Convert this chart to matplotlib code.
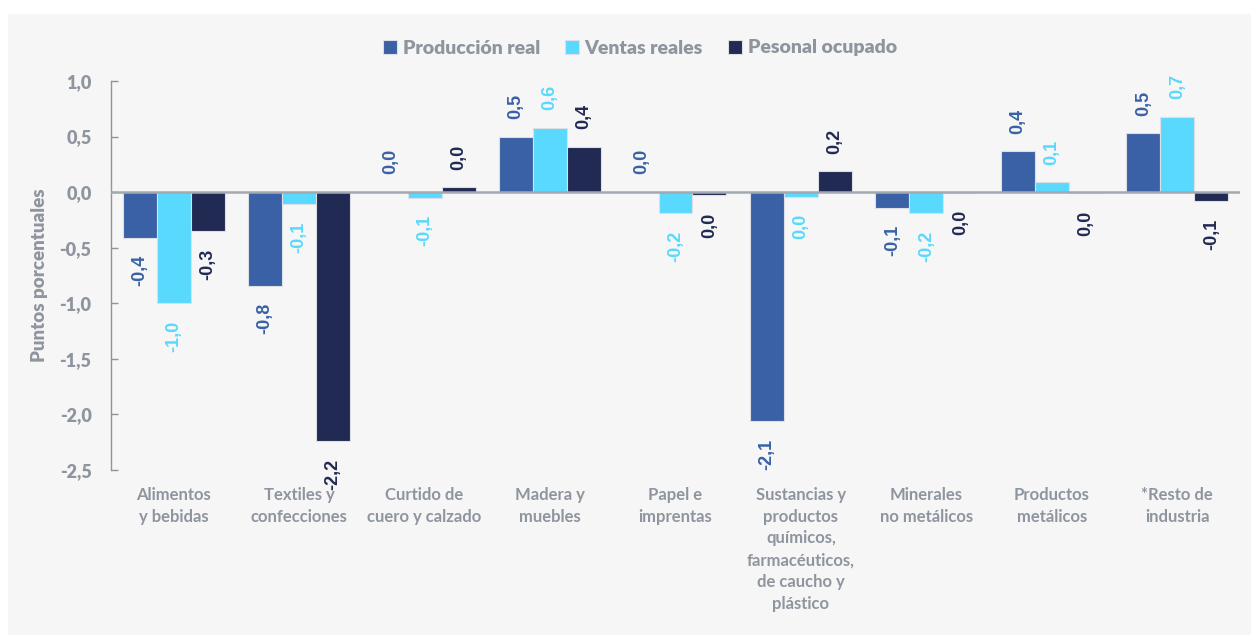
import numpy as np
import matplotlib
matplotlib.use("Agg")
import matplotlib.pyplot as plt
from matplotlib.patches import Rectangle

# Datos (puntos porcentuales)
categorias = [
    "Alimentos\ny bebidas",
    "Textiles y\nconfecciones",
    "Curtido de\ncuero y calzado",
    "Madera y\nmuebles",
    "Papel e\nimprentas",
    "Sustancias y\nproductos\nquímicos,\nfarmacéuticos,\nde caucho y\nplástico",
    "Minerales\nno metálicos",
    "Productos\nmetálicos",
    "*Resto de\nindustria",
]
produccion = [-0.41, -0.84, 0.004, 0.50, 0.004, -2.06, -0.14, 0.37, 0.53]
ventas = [-1.00, -0.11, -0.05, 0.58, -0.19, -0.04, -0.19, 0.09, 0.68]
personal = [-0.35, -2.24, 0.045, 0.41, -0.03, 0.19, -0.005, -0.01, -0.08]

series = ["Producción real", "Ventas reales", "Pesonal ocupado"]
colores = ["#3A61A6", "#5AD9FE", "#212A52"]
gris = "#8E959E"

fig = plt.figure(figsize=(12.51, 6.35), dpi=100)
fig.patch.set_facecolor("white")
fondo = Rectangle((8 / 1251, 0), 1, 1 - 13.5 / 635, transform=fig.transFigure,
                  facecolor="#F6F6F6", edgecolor="none", zorder=-10)
fig.patches.append(fondo)

ax = fig.add_axes([111 / 1251, 1 - 470 / 635, (1240 - 111) / 1251, (470 - 81) / 635])
ax.set_facecolor("none")

x = np.arange(len(categorias))
ancho = 0.271


def fmt(v):
    s = f"{v:.1f}".replace(".", ",")
    return "0,0" if s == "-0,0" else s


for i, (vals, nombre, color) in enumerate(zip([produccion, ventas, personal], series, colores)):
    pos = x + (i - 1) * ancho
    ax.bar(pos, vals, ancho, color=color, edgecolor="#DCDFE6", linewidth=0.8,
           label=nombre, zorder=2)
    for px, v in zip(pos, vals):
        off = 12.5 if v >= 0 else -12.5
        ax.annotate(fmt(v), (px, v), xytext=(0, off), textcoords="offset points",
                    rotation=90, ha="center", va="bottom" if v >= 0 else "top",
                    color=color, fontsize=13, fontweight="bold",
                    family="Liberation Sans")

ax.axhline(0, color="#A3A9B0", linewidth=1.8, zorder=3)

ax.set_xlim(-0.5, 8.5)
ax.set_ylim(-2.5, 1.0)
yt = np.arange(-2.5, 1.01, 0.5)
ax.set_yticks(yt)
ax.set_yticklabels([fmt(t) for t in yt], family="Lato", fontweight="heavy")
ax.set_xticks(x)
ax.set_xticklabels(categorias, linespacing=1.45, family="Lato", fontweight="bold")

for s in ["top", "right", "bottom"]:
    ax.spines[s].set_visible(False)
ax.spines["left"].set_color(gris)
ax.spines["left"].set_linewidth(1)

ax.tick_params(axis="y", direction="in", length=5, width=1, color=gris,
               labelcolor=gris, labelsize=13, pad=14)
ax.tick_params(axis="x", length=0, labelcolor=gris, labelsize=12, pad=12)

ax.set_ylabel("Puntos porcentuales", color=gris, fontsize=13.5, fontweight="heavy",
              family="Lato")
ax.yaxis.set_label_coords(-(111 - 48) / (1240 - 111), 0.5)

leg = fig.legend(loc="center", bbox_to_anchor=(640 / 1251, 1 - 48 / 635), ncol=3,
                 frameon=False, handlelength=0.7, handleheight=0.7,
                 handletextpad=0.3, columnspacing=1.3,
                 prop={"family": "Lato", "weight": "heavy", "size": 14})
for t in leg.get_texts():
    t.set_color(gris)

fig.savefig("out.png", dpi=100, facecolor=fig.get_facecolor())
